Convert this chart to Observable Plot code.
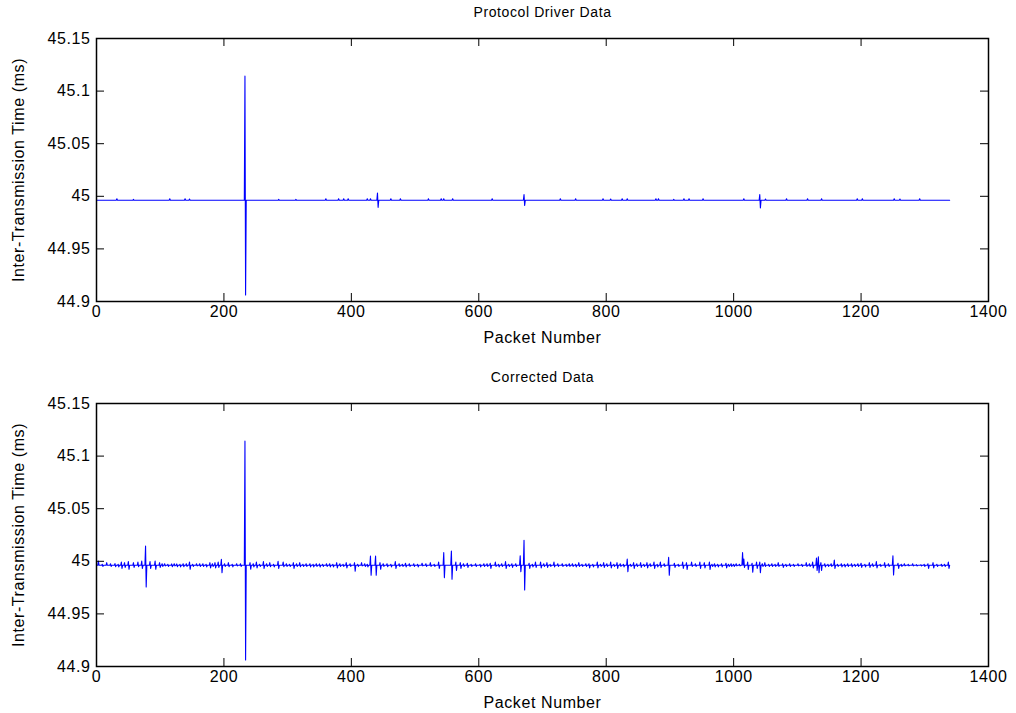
<!DOCTYPE html>
<html>
<head>
<meta charset="utf-8">
<script src="https://cdn.jsdelivr.net/npm/d3@7"></script>
<script src="https://cdn.jsdelivr.net/npm/@observablehq/plot@0.6"></script>
<style>
  html, body { margin: 0; padding: 0; background: #fff; }
  #wrap { position: relative; width: 1016px; height: 713px; }
  #p1, #p2 { position: absolute; left: 0; }
  #p1 { top: 0; }
  #p2 { top: 365px; }
</style>
</head>
<body>
<div id="wrap"><div id="p1"></div><div id="p2"></div></div>
<script>
// ---- data ----
const titles = ["Protocol Driver Data", "Corrected Data"];
const xLabel = "Packet Number";
const yLabel = "Inter-Transmission Time (ms)";
const xTicks = [0, 200, 400, 600, 800, 1000, 1200, 1400];
const yTicks = [44.9, 44.95, 45, 45.05, 45.1, 45.15];
const baseline = 44.9962;     // flat level of the trace (ms)
const lastPacket = 1339;
// events: [packet, rise above baseline, drop below baseline] in thousandths of ms
const driverEvents = [
  [32,1.4,0],[58,0.8,0],[115,1.4,0],[139,1.4,0],[146,1.2,0],[233,118,90],[286,0.8,0],
  [313,0.8,0],[360,1.4,0],[380,1.4,0],[388,1.4,0],[395,1.4,0],[425,1.4,0],[430,1.4,0],
  [441,7,6.7],[462,1.4,0],[477,1.4,0],[521,1.4,0],[541,1.4,0],[545,1.4,0],[559,1.4,0],
  [621,1.4,0],[671,5.4,4.8],[728,1.4,0],[752,1.4,0],[795,1.4,0],[807,1.2,0],[825,1.4,0],
  [833,1.4,0],[878,1.4,0],[882,1.4,0],[906,0.8,0],[922,1.4,0],[930,1.4,0],[952,1.4,0],
  [1016,1.4,0],[1041,5.4,7.2],[1050,1.2,0],[1083,1.4,0],[1116,1.4,0],[1138,1.4,0],
  [1194,1.4,0],[1202,1.4,0],[1252,1.4,0],[1261,1.2,0],[1292,1.4,0]
];
const correctedEvents = [
  [3,4,0],[16,2.5,0],[29,1.6,1.3],[39,3,3],[44,2.5,2],[50,3.5,3.8],[58,2.5,2],[65,3,1.3],
  [71,4,3],[77,18.4,20.6],[84,3.5,3],[92,4,3.8],[99,2.5,2],[107,1.5,0.6],[118,1.3,1.3],
  [126,1.3,1.3],[136,1.5,1.3],[146,3,3.8],[157,1.5,0.6],[167,1.5,1],[178,2.5,2.5],
  [186,2.5,2.5],[191,3,2],[196,5.7,7],[207,2.5,1.3],[220,1.5,0.6],[233,118,90],
  [241,2.5,3.8],[251,3,2.5],[262,3.5,3],[272,2.5,1.3],[285,3.8,3],[293,3,1.3],[309,2.5,3],
  [319,2.5,1.3],[335,1.5,1.5],[350,1.3,1.6],[366,1.5,1.5],[377,2.5,2.5],[392,2.5,2.5],
  [405,2.5,5.5],[416,2.5,0.6],[430,8.8,9.5],[438,8.8,9.5],[445,2.5,3.8],[456,1.5,1.3],
  [469,3.5,3],[485,2,1.5],[498,1.5,1],[511,2,0.6],[524,2.5,1],[537,3,3],[545,12,11.7],
  [557,13.6,13.3],[564,3,5],[571,2.5,3],[582,2,2],[608,1.5,1],[618,2,3],[626,3,1],
  [642,3.5,3],[652,1.5,2],[665,9,6],[671,23.8,23.5],[679,2,3],[689,3,2],[697,3,2.5],
  [707,2.5,2],[718,3,1.5],[731,1.5,1],[747,1.5,1],[757,2.5,1],[773,1.5,2.5],[786,3,2.5],
  [796,2.5,2],[807,3,2.5],[817,2.5,3],[833,6,6],[843,2.5,3],[854,2.5,2],[864,2.5,2.5],
  [875,3,3],[885,3,2],[898,7.5,9.5],[907,2,2],[920,3,3],[926,2.5,4],[934,3,1],[947,3,3],
  [954,2.5,2.5],[962,3,4],[970,1.5,1.5],[981,1.5,1.5],[988,2,2.5],[996,1.5,1],[1004,1.5,0.6],
  [1014,12,0],[1016,6,2],[1022,3,4],[1029,2,6.5],[1036,3,3],[1041,3,7],[1049,2.5,1],
  [1070,2.5,1],[1077,1.5,2],[1088,1.5,1],[1101,1.5,0.6],[1114,2.5,1],[1124,3,2.5],
  [1130,7,5],[1133,8,7],[1137,2.5,5],[1158,5,3],[1169,1.5,1.5],[1185,1.5,1.5],[1200,2,2],
  [1213,2.5,2],[1224,3.5,2.5],[1237,2.5,2],[1250,9,9.2],[1258,2,3],[1268,1.5,0.6],
  [1281,1.5,0.6],[1305,1.5,3],[1313,2.5,2.5],[1326,1,1],[1337,3,3]
];
// finer jitter seen between the larger excursions of the corrected trace
const correctedJitter = [
  [9,1,1],[22,1.5,1],[34,1,1.5],[103,1.5,1],[112,1,1],[122,1.5,0.6],[131,1,1.5],[141,1.5,1],
  [151,1,1],[162,1.5,1],[172,1,1.5],[182,1.5,1],[201,1.5,1],[213,1,1.5],[226,1.5,1],
  [246,1.5,1.5],[256,1,1],[267,1.5,1],[278,1,1.5],[298,1.5,1],[303,1,1],[314,1.5,1],
  [324,1,1],[329,1.5,1],[340,1,1.5],[345,1.5,1],[355,1,1],[361,1.5,1],[371,1,1.5],
  [382,1.5,1],[387,1,1],[398,1.5,1],[410,1,1],[421,1.5,1],[425,1,1.5],[450,1.5,1],
  [462,1,1.5],[475,1.5,1],[480,1,1],[491,1.5,1],[504,1,1.5],[517,1.5,1],[530,1,1],
  [576,1.5,1],[588,1,1],[595,1.5,1],[602,1,1.5],[613,1.5,1],[631,1,1.5],[636,1.5,1],
  [647,1,1],[658,1.5,1],[684,1,1.5],[702,1.5,1],[712,1,1],[724,1.5,1],[737,1,1],
  [742,1.5,1],[752,1,1.5],[762,1,1],[768,1.5,1],[779,1,1.5],[791,1,1],[801,1.5,1],
  [812,1,1],[822,1.5,1],[827,1,1.5],[838,1,1],[848,1.5,1],[859,1,1],[869,1.5,1],
  [880,1,1.5],[891,1.5,1],[913,1,1],[940,1.5,1],[966,1,1],[975,1,1.5],[992,1,1],
  [1000,1,1],[1009,1,0.6],[1045,1.5,1],[1055,1,1],[1060,1.5,1],[1065,1,1],[1082,1,1],
  [1094,1,1],[1107,1,1],[1119,1.5,1],[1143,1.5,1.5],[1148,1,1],[1153,1.5,1],[1163,1,1],
  [1174,1,1.5],[1179,1.5,1],[1190,1,1],[1195,1.5,1],[1206,1,1.5],[1218,1.5,1],[1230,1,1],
  [1243,1.5,1],[1263,1,1],[1274,1,0.6],[1287,0.6,0.6],[1294,0.6,0.6],[1299,1,1],
  [1319,1,1],[1331,1,1]
];

// ---- build trace table from the events ----
function trace(events) {
  const pts = [{x: 0, y: baseline}];
  for (const [p, u, d] of events) {
    pts.push({x: p - 1, y: baseline});
    pts.push({x: p, y: baseline + u / 1000});
    if (d > 0) {
      pts.push({x: p + 1, y: baseline - d / 1000});
      pts.push({x: p + 2, y: baseline});
    } else {
      pts.push({x: p + 1, y: baseline});
    }
  }
  pts.push({x: lastPacket, y: baseline});
  return pts.filter(d => d.x <= lastPacket).sort((a, b) => a.x - b.x);
}

const W = 1016, H = 356;
const mL = 96, mR = 28, mT = 38, mB = 55;
const fw = W - mL - mR, fh = H - mT - mB;
const tickLen = 8;
const fmtY = d => String(+d.toFixed(2));
const fmtX = d => String(d);
const FONT = "'Liberation Sans', Arial, sans-serif";

function panel(title, events) {
  const data = trace(events);
  return Plot.plot({
    width: W, height: H,
    marginLeft: mL, marginRight: mR, marginTop: mT, marginBottom: mB,
    style: {fontFamily: FONT, fontSize: "16px", color: "#000", background: "#fff", letterSpacing: "0.6px"},
    x: {domain: [0, 1400], ticks: xTicks},
    y: {domain: [44.9, 45.15], ticks: yTicks},
    marks: [
      Plot.line(data, {x: "x", y: "y", stroke: "#0000ff", strokeWidth: 1.1}),
      // inward ticks on all four sides
      Plot.tickY(yTicks, {y: d => d, insetRight: fw - tickLen, stroke: "#000"}),
      Plot.tickY(yTicks, {y: d => d, insetLeft: fw - tickLen, stroke: "#000"}),
      Plot.tickX(xTicks, {x: d => d, insetTop: fh - tickLen, stroke: "#000"}),
      Plot.tickX(xTicks, {x: d => d, insetBottom: fh - tickLen, stroke: "#000"}),
      Plot.axisY({ticks: yTicks, tickSize: 0, tickPadding: 6, tickFormat: fmtY, label: null, fontSize: 16}),
      Plot.axisX({ticks: xTicks, tickSize: 0, tickPadding: 4, tickFormat: fmtX, label: null, fontSize: 16}),
      Plot.frame({stroke: "#000", strokeWidth: 1.5}),
      Plot.text([title], {frameAnchor: "top", lineAnchor: "middle", dy: -26, fontSize: 14, fill: "#000"}),
      Plot.text([xLabel], {frameAnchor: "bottom", lineAnchor: "middle", dy: 36, fontSize: 16, fill: "#000", style: "letter-spacing:1.2px"}),
      Plot.text([yLabel], {frameAnchor: "left", textAnchor: "middle", lineAnchor: "middle", dx: -78, rotate: -90, fontSize: 16, fill: "#000"})
    ]
  });
}

document.getElementById("p1").appendChild(panel(titles[0], driverEvents));
document.getElementById("p2").appendChild(panel(titles[1], correctedEvents.concat(correctedJitter)));
</script>
</body>
</html>
